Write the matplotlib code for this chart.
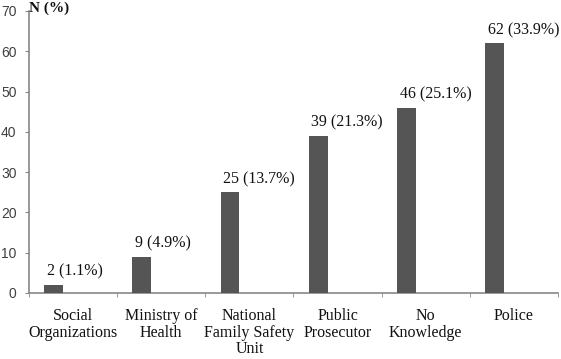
import matplotlib
matplotlib.use("Agg")
import matplotlib.pyplot as plt
import numpy as np

categories = ["Social\nOrganizations", "Ministry of\nHealth", "National\nFamily Safety\nUnit",
              "Public\nProsecutor", "No\nKnowledge", "Police"]
counts = [2, 9, 25, 39, 46, 62]
percents = [1.1, 4.9, 13.7, 21.3, 25.1, 33.9]
yticks = [0, 10, 20, 30, 40, 50, 60, 70]

fig = plt.figure(figsize=(5.61, 3.59), dpi=100)
W, H = 561, 359
ax = fig.add_axes([29 / W, 1 - 293 / H, (558 - 29) / W, (293 - 11) / H])

x = np.arange(len(categories))
offset = -0.22
bar_w = 0.215
ax.bar(x + offset, counts, width=bar_w, color="#555555", zorder=3)

ax.set_xlim(-0.5, len(categories) - 0.5)
ax.set_ylim(0, 70)
ax.set_yticks(yticks)
ax.set_yticklabels([str(t) for t in yticks], fontsize=10, color="#404040",
                   family="Liberation Sans")
ax.set_xticks(x)
ax.set_xticklabels(categories, fontsize=11.5, family="Liberation Serif",
                   color="#111111", linespacing=1.05, va="top")
ax.tick_params(axis="x", length=0, pad=11)
ax.set_xticks(np.arange(-0.5, len(categories) + 0.5, 1), minor=True)
ax.tick_params(axis="x", which="minor", length=3, color="#888888", direction="out")
ax.tick_params(axis="y", length=3, color="#888888", direction="out", pad=6)

for s in ["top", "right"]:
    ax.spines[s].set_visible(False)
for s in ["left", "bottom"]:
    ax.spines[s].set_color("#888888")
    ax.spines[s].set_linewidth(1.2)

for xi, c, p in zip(x, counts, percents):
    ax.annotate(f"{c} ({p}%)", xy=(xi + offset - bar_w / 2, c), xytext=(2, 9.5),
                textcoords="offset points", ha="left", va="center",
                fontsize=11.5, family="Liberation Serif", color="#111111")

fig.text(29 / W, 1 - 8 / H, "N (%)", fontsize=11, fontweight="bold",
         family="Liberation Serif", ha="left", va="center", color="#111111")

fig.savefig("out.png", dpi=100)
